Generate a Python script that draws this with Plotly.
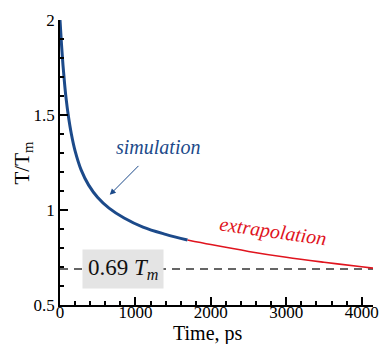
import plotly.graph_objects as go

# Simulated cooling curve (time in ps, temperature relative to melting point)
sim_t = [0, 20, 40, 60, 80, 110, 150, 200, 280, 380, 500, 650, 850, 1100, 1400, 1690]
sim_T = [2.0, 1.87, 1.76, 1.668, 1.59, 1.497, 1.401, 1.311, 1.211, 1.131, 1.066,
         1.01, 0.958, 0.91, 0.872, 0.842]

# Extrapolated continuation of the curve
ext_t = [1690, 2000, 2500, 3000, 3500, 4000, 4150]
ext_T = [0.842, 0.818, 0.782, 0.751, 0.725, 0.701, 0.694]

# Reference level 0.69 T_m
ref_T = 0.69
x_range = [0, 4150]
y_range = [0.5, 2.0]

BLUE = "#1c4a8a"
RED = "#e0141e"
FONT = "Times New Roman, Liberation Serif, serif"

fig = go.Figure()

fig.add_trace(go.Scatter(
    x=x_range, y=[ref_T, ref_T], mode="lines",
    line=dict(color="#333333", width=1.5, dash="8px,6px"),
    hoverinfo="skip", showlegend=False))

fig.add_trace(go.Scatter(
    x=ext_t, y=ext_T, mode="lines", line_shape="spline",
    line=dict(color=RED, width=1.6), showlegend=False))

fig.add_trace(go.Scatter(
    x=sim_t, y=sim_T, mode="lines", line_shape="spline",
    line=dict(color=BLUE, width=3), showlegend=False))

# Curve labels
fig.add_annotation(x=1300, y=1.33, text="<i>simulation</i>", showarrow=False,
                   font=dict(family=FONT, size=20, color=BLUE))
fig.add_annotation(x=660, y=1.08, ax=1060, ay=1.24, axref="x", ayref="y",
                   text="", showarrow=True, arrowhead=2, arrowsize=1.2,
                   arrowwidth=1, arrowcolor=BLUE)
fig.add_annotation(x=2830, y=0.885, text="<i>extrapolation</i>", showarrow=False,
                   textangle=8, font=dict(family=FONT, size=20, color=RED))
fig.add_annotation(x=830, y=ref_T, text="0.69 <i>T<sub>m</sub></i>", showarrow=False,
                   bgcolor="#e4e4e4", borderpad=5,
                   font=dict(family=FONT, size=23, color="#111111"))

# Axis titles
fig.add_annotation(xref="paper", yref="paper", x=0, y=0.5, xshift=-38,
                   xanchor="center", yanchor="middle",
                   text="T/T<sub>m</sub>", textangle=-90, showarrow=False,
                   font=dict(family=FONT, size=21, color="black"))
fig.add_annotation(xref="paper", yref="paper", x=0.473, y=0, yshift=-28,
                   xanchor="center", yanchor="middle",
                   text="Time, ps", showarrow=False,
                   font=dict(family=FONT, size=20, color="black"))

axis_common = dict(
    showline=True, linecolor="black", linewidth=1.5, mirror=False, automargin=False,
    showgrid=False, zeroline=False, ticks="inside", ticklen=8, tickwidth=1.5,
    tickcolor="black", tickfont=dict(family=FONT, size=17, color="black"),
)

# Bottom axis: line and inside ticks
fig.update_xaxes(range=x_range, dtick=1000, tick0=0, showticklabels=False,
                 minor=dict(dtick=200, ticks="inside", ticklen=4, tickcolor="black"),
                 **axis_common)
# Companion axis carrying only the labels, set snug against the axis line
fig.update_layout(xaxis2=dict(
    overlaying="x", matches="x", anchor="free", position=0.016, side="bottom",
    range=x_range, dtick=1000, tick0=0, showline=False, ticks="", showgrid=False,
    zeroline=False, automargin=False,
    tickfont=dict(family=FONT, size=17, color="black"),
))
fig.add_trace(go.Scatter(x=[], y=[], xaxis="x2", yaxis="y", showlegend=False))

fig.update_yaxes(range=y_range, tickvals=[0.5, 1, 1.5, 2], ticktext=["0.5", "1", "1.5", "2"],
                 minor=dict(dtick=0.1, ticks="inside", ticklen=4, tickcolor="black"),
                 **axis_common)

fig.update_layout(
    width=380, height=344,
    margin=dict(l=60, r=7, t=20, b=39),
    paper_bgcolor="white", plot_bgcolor="white",
    font=dict(family=FONT, color="black"),
)

fig.write_html("out.html")
